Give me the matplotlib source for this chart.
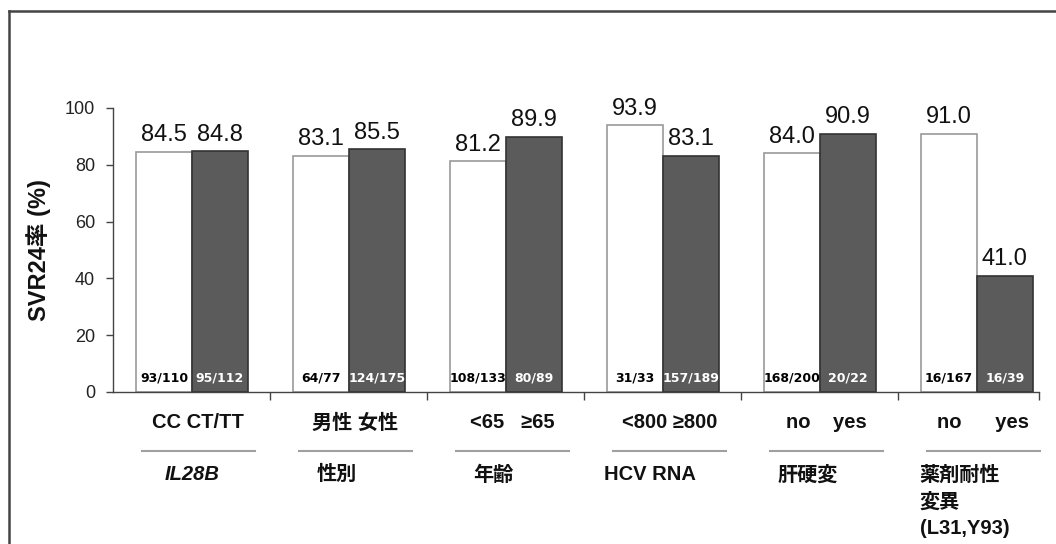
import matplotlib
matplotlib.use("Agg")
import matplotlib.pyplot as plt
import matplotlib.transforms as mtransforms
from matplotlib.lines import Line2D
import numpy as np

plt.rcParams['font.family'] = ['Liberation Sans', 'Noto Sans CJK JP', 'DejaVu Sans']

# ---- data ----
groups = ["IL28B", "性別", "年齢", "HCV RNA", "肝硬変", "薬剤耐性\n変異\n(L31,Y93)"]
sub_labels = ["CC CT/TT", "男性 女性", "<65   ≥65", "<800 ≥800", "no    yes", "no      yes"]
white_vals = [84.5, 83.1, 81.2, 93.9, 84.0, 91.0]
dark_vals = [84.8, 85.5, 89.9, 83.1, 90.9, 41.0]
white_counts = ["93/110", "64/77", "108/133", "31/33", "168/200", "16/167"]
dark_counts = ["95/112", "124/175", "80/89", "157/189", "20/22", "16/39"]
yticks = [0, 20, 40, 60, 80, 100]
ylabel = "SVR24率 (%)"

fig = plt.figure(figsize=(10.56, 5.44), dpi=100)
ax = fig.add_axes([113/1056, (544-392)/544, 926/1056, 284/544])

x = np.arange(len(groups))
bw = 0.355
ax.bar(x - bw/2, white_vals, bw, color="white", edgecolor="#9a9a9a", linewidth=1.2, zorder=2)
ax.bar(x + bw/2, dark_vals, bw, color="#5b5b5b", edgecolor="#333333", linewidth=1.2, zorder=2)

for i in range(len(groups)):
    ax.annotate(f"{white_vals[i]:.1f}", (x[i] - bw/2, white_vals[i]), xytext=(0, 4),
                textcoords="offset points", ha="center", va="bottom", fontsize=17, color="#111111")
    ax.annotate(f"{dark_vals[i]:.1f}", (x[i] + bw/2, dark_vals[i]), xytext=(0, 4),
                textcoords="offset points", ha="center", va="bottom", fontsize=17, color="#111111")
    ax.text(x[i] - bw/2, 5, white_counts[i], ha="center", va="center", fontsize=9,
            fontweight="bold", color="black", family="DejaVu Sans", zorder=3)
    ax.text(x[i] + bw/2, 5, dark_counts[i], ha="center", va="center", fontsize=9,
            fontweight="bold", color="white", family="DejaVu Sans", zorder=3)

xlim_r = 5.395
ax.set_xlim(-0.503, xlim_r)
ax.set_ylim(0, 100)

for s in ["top", "right"]:
    ax.spines[s].set_visible(False)
for s in ["left", "bottom"]:
    ax.spines[s].set_color("#444444")
    ax.spines[s].set_linewidth(1.0)

ax.set_yticks(yticks)
ax.tick_params(axis="y", direction="out", length=5, width=1, color="#444444",
               labelsize=13, labelcolor="#222222", pad=8)
ax.set_xticks(list(np.arange(len(groups) - 1) + 0.5) + [xlim_r])
ax.set_xticklabels([])
ax.tick_params(axis="x", direction="out", length=6, width=1, color="#444444")

ax.set_ylabel(ylabel, fontsize=17, fontweight="bold", labelpad=10, color="#111111")

trans = mtransforms.blended_transform_factory(ax.transData, ax.transAxes)
for i in range(len(groups)):
    ax.text(x[i] + 0.04, -0.109, sub_labels[i], transform=trans, ha="center", va="center",
            fontsize=14.5, fontweight="bold", color="#111111", clip_on=False)
    ax.add_line(Line2D([x[i] - 0.32, x[i] + 0.40], [-0.208, -0.208], transform=trans,
                       color="#a0a0a0", linewidth=1.5, clip_on=False))
    ax.text(x[i] - 0.08 if i > 0 else x[i], -0.258, groups[i], transform=trans,
            ha="center", va="top", multialignment="left", fontsize=14.5, fontweight="bold",
            fontstyle="italic" if i == 0 else "normal", color="#111111",
            linespacing=1.5, clip_on=False)

# outer frame (top and left)
fig.add_artist(Line2D([9/1056, 9/1056], [0, 1 - 11/544], transform=fig.transFigure,
                      color="#444444", linewidth=1.8))
fig.add_artist(Line2D([9/1056, 1], [1 - 11/544, 1 - 11/544], transform=fig.transFigure,
                      color="#444444", linewidth=1.8))

fig.savefig("out.png", dpi=100)
